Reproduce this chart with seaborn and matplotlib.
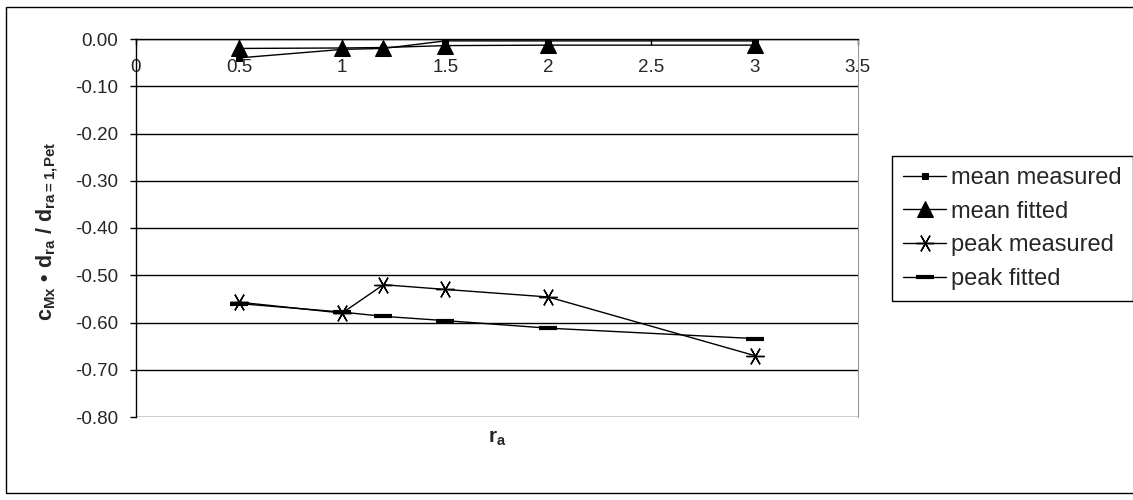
import seaborn as sns, matplotlib.pyplot as plt, numpy as np
from matplotlib.patches import Rectangle

r_a = np.array([0.5, 1.0, 1.2, 1.5, 2.0, 3.0])
mean_measured = np.array([-0.040, -0.022, -0.020, -0.004, -0.004, -0.004])
mean_fitted = np.array([-0.020, -0.019, -0.018, -0.014, -0.013, -0.013])
peak_measured = np.array([-0.557, -0.580, -0.520, -0.530, -0.546, -0.670])
peak_fitted = np.array([-0.560, -0.578, -0.587, -0.596, -0.612, -0.634])

x_ticks = [0, 0.5, 1, 1.5, 2, 2.5, 3, 3.5]
y_ticks = np.round(np.arange(0, -0.81, -0.1), 2)

sns.set_style("white")
plt.rcParams['font.family'] = ['Liberation Sans', 'DejaVu Sans']
plt.rcParams['mathtext.fontset'] = 'custom'
plt.rcParams['mathtext.rm'] = 'Liberation Sans'
plt.rcParams['mathtext.bf'] = 'Liberation Sans:bold'

fig = plt.figure(figsize=(11.33, 5), dpi=100)
ax = fig.add_axes([0.120, 0.166, 0.637, 0.756])

# series
sns.lineplot(x=r_a, y=mean_measured, ax=ax, color='black', lw=1, marker='s',
             markersize=5, mec='black', label='mean measured')
sns.lineplot(x=r_a, y=mean_fitted, ax=ax, color='black', lw=1, marker='^',
             markersize=12, mec='black', label='mean fitted')
sns.lineplot(x=r_a, y=peak_measured, ax=ax, color='black', lw=1, marker=(6, 2, 90),
             markersize=13, mew=1, mec='black', label='peak measured')
sns.lineplot(x=r_a, y=peak_fitted, ax=ax, color='black', lw=1, marker='_',
             markersize=13, mew=3, mec='black', label='peak fitted')

ax.set_xlim(0, 3.5)
ax.set_ylim(-0.8, 0)
ax.set_xticks(x_ticks)
ax.set_xticklabels([f'{t:g}' for t in x_ticks])
ax.set_yticks(y_ticks)
ax.set_yticklabels([f'{t:.2f}' for t in y_ticks])

# x axis crosses at y = 0
ax.spines['bottom'].set_position(('data', 0))
ax.spines['top'].set_visible(False)
ax.spines['right'].set_color('#999999')
for s in ['bottom', 'left']:
    ax.spines[s].set_color('black')
    ax.spines[s].set_linewidth(1)

ax.yaxis.grid(True, color='black', lw=1)
ax.set_axisbelow(True)
ax.tick_params(axis='both', direction='out', length=4.3, width=1, color='black',
               labelsize=13.5, left=True, bottom=True)
ax.tick_params(axis='x', pad=10)
ax.tick_params(axis='y', pad=8.5)

ax.set_xlabel(r'$\mathbf{r_a}$', fontsize=15)
ax.xaxis.set_label_coords(0.5, -0.03)
ax.set_ylabel(r'$\mathbf{c_{Mx}}$ • $\mathbf{d_{ra}}$ / $\mathbf{d_{ra{=}1{,}Pet}}$',
              fontsize=15.5, fontweight='bold')
ax.yaxis.set_label_coords(-0.105, 0.49)

# legend box runs off the right edge like the original
ax.legend(loc='center left', bbox_to_anchor=(0.787, 0.543), bbox_transform=fig.transFigure,
          fontsize=17, frameon=True, fancybox=False, edgecolor='black', framealpha=1,
          handlelength=1.85, handletextpad=0.2, borderpad=0.47, labelspacing=0.49,
          borderaxespad=0)
ax.get_legend().get_frame().set_linewidth(1)

fig.patches.append(Rectangle((0.005, 0.014), 1.1, 0.972, transform=fig.transFigure,
                             fill=False, edgecolor='black', lw=1))

plt.savefig('out.png', dpi=100)
